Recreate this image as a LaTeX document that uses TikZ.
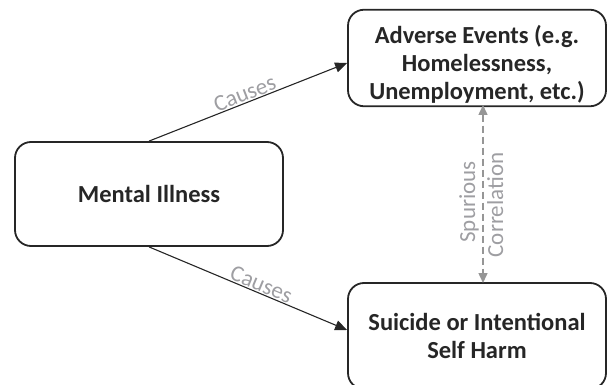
\documentclass[tikz,border=0pt]{standalone}
\usepackage{fontspec}
\setmainfont{Carlito}
\usetikzlibrary{arrows.meta,calc}
\definecolor{lblgray}{RGB}{158,158,162}
\definecolor{dashgray}{RGB}{150,150,150}
\tikzset{
  box/.style={draw=black!85, line width=1.8pt, rounded corners=16pt, align=center,
    font=\fontsize{24.5}{28}\selectfont\bfseries, text=black!85},
  causearrow/.style={draw=black!85, line width=1.1pt, -{Triangle[length=12pt,width=10pt]}},
  corrarrow/.style={draw=dashgray, line width=1.5pt, dash pattern=on 7pt off 4pt,
    {Triangle[length=10pt,width=9pt]}-{Triangle[length=10pt,width=9pt]}},
  lbl/.style={text=lblgray, font=\fontsize{23}{27}\selectfont, inner sep=2pt}
}
\begin{document}
\begin{tikzpicture}[x=1pt,y=-1pt]
\useasboundingbox (0,0) rectangle (607,385);
\clip (0,0) rectangle (607,385);
\node[box, minimum width=268pt, minimum height=104pt] (mi) at (149,194) {Mental Illness};
\node[box, minimum width=258pt, minimum height=95pt] (ae) at (477,58) {\rule{0pt}{30pt}Adverse Events (e.g.\\Homelessness,\\Unemployment, etc.)};
\node[box, minimum width=258pt, minimum height=106pt] (ss) at (477,336) {Suicide or Intentional\\Self Harm};
\coordinate (aein) at ($(ae.west)+(0,5)$);
\coordinate (ssin) at ($(ss.west)+(0,-6)$);
\draw[causearrow] (mi.north) -- node[lbl, sloped, above, pos=0.5, inner sep=1pt] {Causes} (aein);
\draw[causearrow] (mi.south) -- node[lbl, sloped, above, pos=0.55, inner sep=1pt] {Causes} (ssin);
\coordinate (ctop) at (483,105);
\coordinate (cbot) at (483,283);
\draw[corrarrow] (ctop) -- (cbot);
\node[lbl, rotate=90, anchor=south, inner sep=4pt] (sp) at (483,202) {Spurious};
\node[lbl, rotate=90, anchor=north, inner sep=4pt] (co) at (483,205) {Correlation};
\end{tikzpicture}
\end{document}
